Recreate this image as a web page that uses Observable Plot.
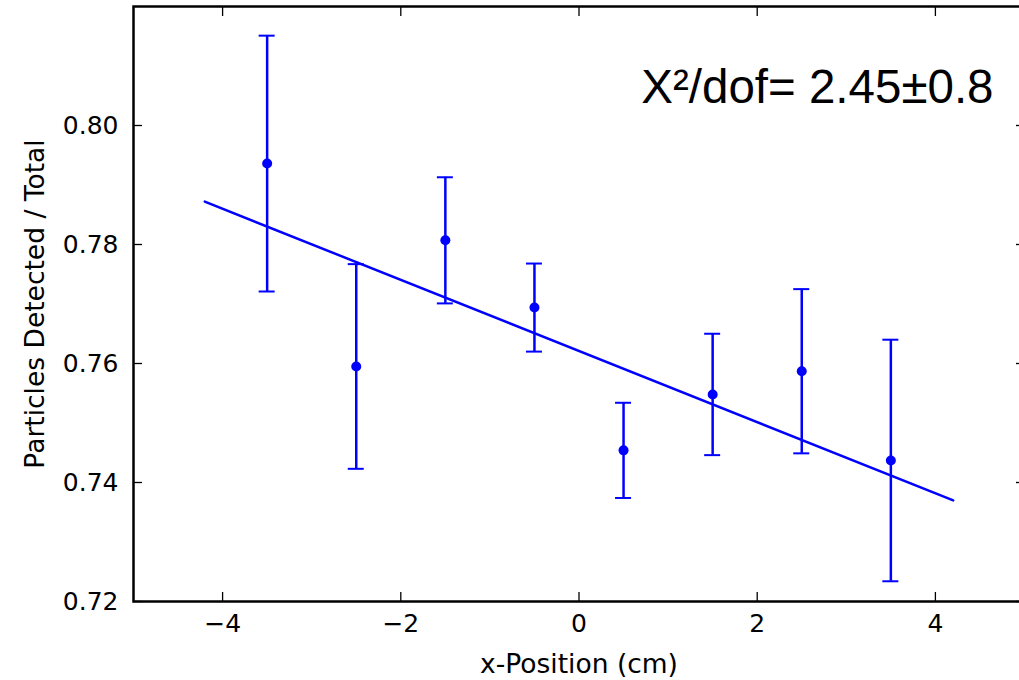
<!DOCTYPE html>
<html>
<head>
<meta charset="utf-8">
<script src="https://cdn.jsdelivr.net/npm/d3@7"></script>
<script src="https://cdn.jsdelivr.net/npm/@observablehq/plot@0.6"></script>
<style>
  html, body { margin: 0; padding: 0; background: #fff; overflow: hidden; }
  #chart svg { display: block; max-width: none !important; }
</style>
</head>
<body>
<div id="chart"></div>
<script>
// Measured data
const xPos   = [-3.5, -2.5, -1.5, -0.5, 0.5, 1.5, 2.5, 3.5];
const ratio  = [0.7936, 0.7595, 0.7807, 0.7694, 0.7454, 0.7548, 0.7587, 0.7437];
const errs   = [0.0215, 0.0172, 0.0106, 0.0074, 0.0080, 0.0102, 0.0138, 0.0203];
// Fit line end points
const fitX = [-4.2, 4.2];
const fitY = [0.7872, 0.7370];
// Ticks
const xTicks = [-4, -2, 0, 2, 4];
const yTicks = [0.72, 0.74, 0.76, 0.78, 0.80];
const annotation = "X\u00B2/dof= 2.45\u00B10.8";

const pts = xPos.map((x, i) => ({x, y: ratio[i], lo: ratio[i] - errs[i], hi: ratio[i] + errs[i]}));
const fit = fitX.map((x, i) => ({x, y: fitY[i]}));

const blue = "#0000ff";
const tickFont = "DejaVu Sans, sans-serif";

const chart = Plot.plot({
  width: 1024,
  height: 680,
  marginLeft: 133,
  marginRight: 0,
  marginTop: 6,
  marginBottom: 79,
  style: {fontFamily: tickFont, fontSize: "25px", color: "#000", background: "#fff"},
  x: {domain: [-5, 5]},
  y: {domain: [0.72, 0.82]},
  marks: [
    Plot.axisX({anchor: "bottom", ticks: xTicks, tickSize: -9, tickPadding: 22, strokeWidth: 1.3,
      label: null, fontSize: 25}),
    Plot.text(["x-Position (cm)"], {frameAnchor: "bottom", text: d => d, dy: 71, lineAnchor: "bottom", fontSize: 26.5}),
    Plot.axisX({anchor: "top", ticks: xTicks, tickSize: -9, tickFormat: () => "", label: null, strokeWidth: 1.3}),
    Plot.axisY({anchor: "left", ticks: yTicks, tickSize: -9, tickPadding: 24, tickFormat: d3.format(".2f"), strokeWidth: 1.3,
      label: null, fontSize: 25}),
    Plot.text(["Particles Detected / Total"], {frameAnchor: "left", text: d => d, dx: -98, rotate: -90, textAnchor: "middle", lineAnchor: "middle", fontSize: 26.5}),
    Plot.axisY({anchor: "right", ticks: yTicks, tickSize: -9, tickFormat: () => "", label: null, strokeWidth: 1.3}),
    Plot.line(fit, {x: "x", y: "y", stroke: blue, strokeWidth: 2.5}),
    Plot.ruleX(pts, {x: "x", y1: "lo", y2: "hi", stroke: blue, strokeWidth: 2.5}),
    Plot.ruleY(pts, {y: "hi", x1: "x", x2: "x", insetLeft: -8, insetRight: -8, stroke: blue, strokeWidth: 2}),
    Plot.ruleY(pts, {y: "lo", x1: "x", x2: "x", insetLeft: -8, insetRight: -8, stroke: blue, strokeWidth: 2}),
    Plot.dot(pts, {x: "x", y: "y", r: 5, fill: blue, stroke: null}),
    Plot.text([annotation], {frameAnchor: "top-right", text: d => d, dx: -31, dy: 63, lineAnchor: "top",
      textAnchor: "end", fontSize: 47.5, fontFamily: "Liberation Sans, Arial, sans-serif", fill: "#000"}),
    Plot.frame({stroke: "#000", strokeWidth: 2.5})
  ]
});
document.getElementById("chart").appendChild(chart);
</script>
</body>
</html>
